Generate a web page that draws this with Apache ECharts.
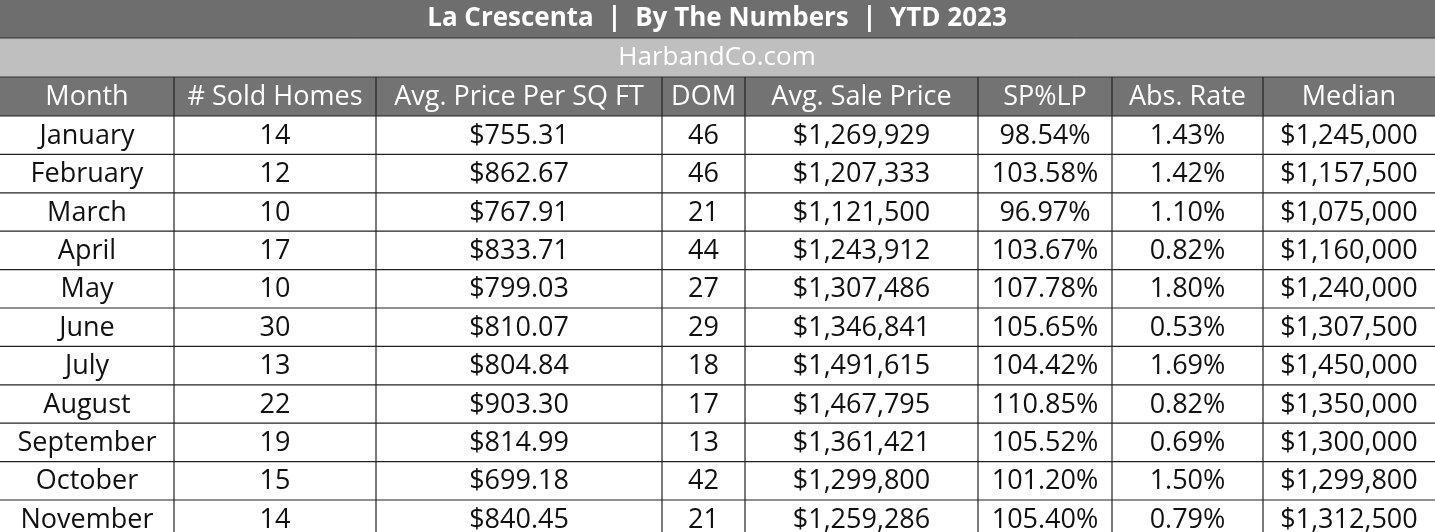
<!DOCTYPE html>
<html>
<head>
<meta charset="utf-8">
<script src="https://cdn.jsdelivr.net/npm/echarts@6/dist/echarts.min.js"></script>
<style>html,body{margin:0;padding:0;background:#fff}#main{width:1435px;height:532px}</style>
</head>
<body>
<div id="main"></div>
<script>
var title = 'La Crescenta  |  By The Numbers  |  YTD 2023';
var subtitle = 'HarbandCo.com';
var headers = ['Month', '# Sold Homes', 'Avg. Price Per SQ FT', 'DOM', 'Avg. Sale Price', 'SP%LP', 'Abs. Rate', 'Median'];
var months = ['January', 'February', 'March', 'April', 'May', 'June', 'July', 'August', 'September', 'October', 'November'];
var soldHomes = [14, 12, 10, 17, 10, 30, 13, 22, 19, 15, 14];
var pricePerSqFt = ['$755.31', '$862.67', '$767.91', '$833.71', '$799.03', '$810.07', '$804.84', '$903.30', '$814.99', '$699.18', '$840.45'];
var dom = [46, 46, 21, 44, 27, 29, 18, 17, 13, 42, 21];
var avgSalePrice = ['$1,269,929', '$1,207,333', '$1,121,500', '$1,243,912', '$1,307,486', '$1,346,841', '$1,491,615', '$1,467,795', '$1,361,421', '$1,299,800', '$1,259,286'];
var spLp = ['98.54%', '103.58%', '96.97%', '103.67%', '107.78%', '105.65%', '104.42%', '110.85%', '105.52%', '101.20%', '105.40%'];
var absRate = ['1.43%', '1.42%', '1.10%', '0.82%', '1.80%', '0.53%', '1.69%', '0.82%', '0.69%', '1.50%', '0.79%'];
var median = ['$1,245,000', '$1,157,500', '$1,075,000', '$1,160,000', '$1,240,000', '$1,307,500', '$1,450,000', '$1,350,000', '$1,300,000', '$1,299,800', '$1,312,500'];

var colX = [0, 174, 376, 662, 745, 978, 1112, 1263, 1435];
var rowTop = 116, rowH = 38.4;
var font = '"Open Sans", "DejaVu Sans", sans-serif';

var els = [];
// title bars
els.push({type: 'rect', shape: {x: 0, y: 0, width: 1435, height: 38}, style: {fill: '#6e6e6e'}});
els.push({type: 'text', x: 717, y: 19, style: {text: title, fill: '#fff', font: 'bold 26px ' + font, textAlign: 'center', textVerticalAlign: 'middle'}});
els.push({type: 'rect', shape: {x: 0, y: 38, width: 1435, height: 39}, style: {fill: '#bfbfbf'}});
els.push({type: 'text', x: 717, y: 58, style: {text: subtitle, fill: '#fff', font: '26px ' + font, textAlign: 'center', textVerticalAlign: 'middle'}});
els.push({type: 'rect', shape: {x: 0, y: 77, width: 1435, height: 39}, style: {fill: '#737373'}});
for (var c = 0; c < headers.length; c++) {
    els.push({type: 'text', x: (colX[c] + colX[c + 1]) / 2, y: 97, style: {text: headers[c], fill: '#fff', font: '27px ' + font, textAlign: 'center', textVerticalAlign: 'middle'}});
}
// lines
els.push({type: 'line', shape: {x1: 0, y1: 38, x2: 1435, y2: 38}, style: {stroke: '#333', lineWidth: 1}});
els.push({type: 'line', shape: {x1: 0, y1: 77, x2: 1435, y2: 77}, style: {stroke: '#333', lineWidth: 1}});
for (var c = 1; c < colX.length - 1; c++) {
    els.push({type: 'line', shape: {x1: colX[c], y1: 77, x2: colX[c], y2: 532}, style: {stroke: '#222', lineWidth: 1.2}});
}
var cols = [months, soldHomes, pricePerSqFt, dom, avgSalePrice, spLp, absRate, median];
for (var r = 0; r < months.length; r++) {
    var y = rowTop + r * rowH;
    els.push({type: 'line', shape: {x1: 0, y1: y, x2: 1435, y2: y}, style: {stroke: '#222', lineWidth: 1.2}});
    for (var c = 0; c < cols.length; c++) {
        els.push({type: 'text', x: (colX[c] + colX[c + 1]) / 2, y: y + rowH / 2 + 1, style: {text: String(cols[c][r]), fill: '#111', font: '27px ' + font, textAlign: 'center', textVerticalAlign: 'middle'}});
    }
}
var chart = echarts.init(document.getElementById('main'));
chart.setOption({animation: false, graphic: {elements: els}});
</script>
</body>
</html>
